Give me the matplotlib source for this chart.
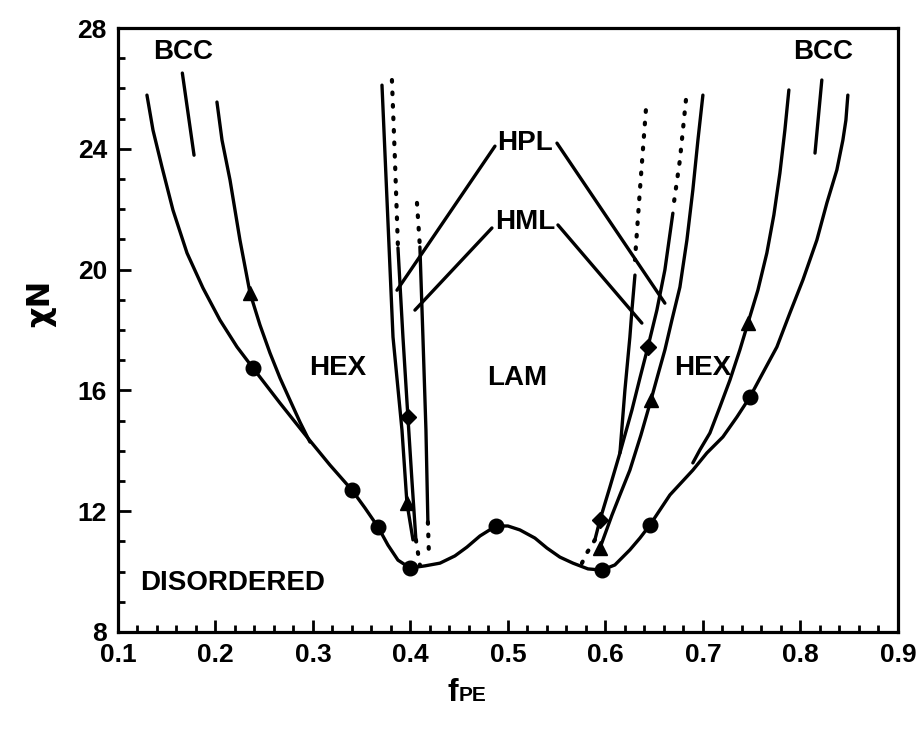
import numpy as np
import matplotlib
matplotlib.use('Agg')
import matplotlib.pyplot as plt
from matplotlib.ticker import MultipleLocator

plt.rcParams['font.family'] = ['Liberation Sans', 'DejaVu Sans']
plt.rcParams['font.weight'] = 'bold'

# order-disorder boundary
dis_x = [0.1297, 0.1359, 0.1451, 0.1564, 0.1708, 0.1872, 0.2046, 0.2221, 0.2385, 0.2662,
         0.2938, 0.3174, 0.3400, 0.3533, 0.3667, 0.3769, 0.3872, 0.3995, 0.4149, 0.4303,
         0.4456, 0.4579, 0.4713, 0.4877, 0.5000, 0.5123, 0.5277, 0.5400, 0.5533, 0.5667,
         0.5821, 0.5964, 0.6097, 0.6251, 0.6354, 0.6456, 0.6662, 0.6897, 0.7041, 0.7205,
         0.7349, 0.7482, 0.7615, 0.7759, 0.7892, 0.8026, 0.8169, 0.8272, 0.8374, 0.8436,
         0.8467, 0.8487]
dis_y = [25.78, 24.62, 23.40, 21.97, 20.55, 19.39, 18.33, 17.44, 16.74, 15.58,
         14.46, 13.53, 12.70, 12.11, 11.48, 10.88, 10.38, 10.12, 10.19, 10.28,
         10.52, 10.81, 11.18, 11.51, 11.51, 11.38, 11.11, 10.78, 10.48, 10.28,
         10.09, 10.05, 10.22, 10.72, 11.11, 11.54, 12.54, 13.36, 13.93, 14.46,
         15.12, 15.78, 16.58, 17.44, 18.56, 19.66, 20.98, 22.21, 23.30, 24.29,
         24.95, 25.78]
dis_mark_x = [0.2385, 0.3400, 0.3667, 0.3995, 0.4877, 0.5964, 0.6456, 0.7482]
dis_mark_y = [16.74, 12.70, 11.48, 10.12, 11.51, 10.05, 11.54, 15.78]

# HEX / BCC boundaries
hb_left_x = [0.2015, 0.2067, 0.2149, 0.2251, 0.2354, 0.2456, 0.2559, 0.2662, 0.2764,
             0.2867, 0.2969]
hb_left_y = [25.55, 24.29, 22.97, 20.98, 19.23, 18.17, 17.24, 16.41, 15.68, 14.95, 14.29]
hb_right_x = [0.7882, 0.7841, 0.7790, 0.7728, 0.7656, 0.7564, 0.7462, 0.7379, 0.7277,
              0.7174, 0.7072, 0.6969, 0.6897]
hb_right_y = [25.95, 24.62, 23.20, 21.81, 20.55, 19.32, 18.23, 17.34, 16.34, 15.45,
              14.59, 14.03, 13.60]
bcc_left_x = [0.166, 0.178]
bcc_left_y = [26.51, 23.79]
bcc_right_x = [0.822, 0.815]
bcc_right_y = [26.28, 23.86]

# left group (HEX / HPL / HML / LAM)
l1_x = [0.3708, 0.3821, 0.3913, 0.3964, 0.4026]
l1_y = [26.11, 17.77, 14.69, 12.27, 11.05]
l2_dot_x = [0.3810, 0.3841, 0.3872]
l2_dot_y = [26.28, 23.63, 20.72]
l2_x = [0.3872, 0.3923, 0.3974, 0.4015, 0.4056]
l2_y = [20.72, 17.77, 15.12, 13.03, 11.05]
l2_tail_x = [0.4056, 0.4097]
l2_tail_y = [11.05, 10.22]
l3_dot_x = [0.4067, 0.4097]
l3_dot_y = [22.21, 20.75]
l3_x = [0.4097, 0.4128, 0.4159, 0.4179]
l3_y = [20.75, 17.77, 14.69, 11.64]
l3_tail_x = [0.4179, 0.4190]
l3_tail_y = [11.64, 10.52]

# right group
ra_dot_x = [0.6415, 0.6354, 0.6303]
ra_dot_y = [25.28, 22.64, 20.32]
ra_x = [0.6303, 0.6272, 0.6251, 0.6200, 0.6149]
ra_y = [19.82, 18.66, 17.77, 16.01, 13.93]
rb_dot_x = [0.6826, 0.6764, 0.6692]
rb_dot_y = [25.62, 23.63, 21.97]
rb_x = [0.6692, 0.6610, 0.6528, 0.6436, 0.6354, 0.6272, 0.6149, 0.6046, 0.5944, 0.5892]
rb_y = [21.87, 19.99, 18.66, 17.44, 16.41, 15.35, 13.93, 12.80, 11.71, 11.05]
rb_tail_x = [0.5892, 0.581, 0.5759]
rb_tail_y = [11.05, 10.62, 10.28]
rc_x = [0.7000, 0.6949, 0.6897, 0.6836, 0.6764, 0.6682, 0.6610, 0.6538, 0.6467, 0.6364,
        0.6251, 0.6149, 0.6067, 0.5944]
rc_y = [25.78, 24.29, 22.64, 20.98, 19.42, 18.33, 17.34, 16.51, 15.68, 14.52,
        13.36, 12.54, 11.87, 10.78]

tri_x = [0.2354, 0.3964, 0.7462, 0.6467, 0.5944]
tri_y = [19.23, 12.27, 18.23, 15.68, 10.78]
dia_x = [0.3974, 0.6436, 0.5944]
dia_y = [15.12, 17.44, 11.71]

# label pointer lines
hpl_l_x = [0.4867, 0.3862]
hpl_l_y = [24.09, 19.32]
hml_l_x = [0.4836, 0.4046]
hml_l_y = [21.38, 18.66]
hpl_r_x = [0.5503, 0.661]
hpl_r_y = [24.19, 18.89]
hml_r_x = [0.5513, 0.6374]
hml_r_y = [21.48, 18.23]

fig = plt.figure(figsize=(9.19, 7.39), dpi=100)
ax = fig.add_axes([0.1284, 0.1448, 0.8486, 0.8172])

lw = 2.4
solid = dict(color='black', lw=lw, solid_capstyle='round', solid_joinstyle='round')
dotted = dict(color='black', lw=lw + 0.6, linestyle=(0, (0.4, 2.6)), dash_capstyle='round')

ax.plot(dis_x, dis_y, **solid)
for xs, ys in [(hb_left_x, hb_left_y), (hb_right_x, hb_right_y), (bcc_left_x, bcc_left_y),
               (bcc_right_x, bcc_right_y), (l1_x, l1_y), (l2_x, l2_y), (l3_x, l3_y),
               (ra_x, ra_y), (rb_x, rb_y), (rc_x, rc_y),
               (hpl_l_x, hpl_l_y), (hml_l_x, hml_l_y), (hpl_r_x, hpl_r_y), (hml_r_x, hml_r_y)]:
    ax.plot(xs, ys, **solid)
for xs, ys in [(l2_dot_x, l2_dot_y), (l2_tail_x, l2_tail_y), (l3_dot_x, l3_dot_y),
               (l3_tail_x, l3_tail_y), (ra_dot_x, ra_dot_y), (rb_dot_x, rb_dot_y),
               (rb_tail_x, rb_tail_y)]:
    ax.plot(xs, ys, **dotted)

ax.plot(dis_mark_x, dis_mark_y, 'o', color='black', ms=10.5)
ax.plot(tri_x, tri_y, '^', color='black', ms=10.5)
ax.plot(dia_x, dia_y, 'D', color='black', ms=8)

fs = 20
labels = [('BCC', 0.1667, 27.2), ('BCC', 0.823, 27.2), ('HEX', 0.3256, 16.74),
          ('HEX', 0.700, 16.74), ('LAM', 0.510, 16.41), ('HPL', 0.5174, 24.19),
          ('HML', 0.5174, 21.58), ('DISORDERED', 0.2175, 9.62)]
for s, x, y in labels:
    ax.text(x, y, s, fontsize=fs, ha='center', va='center', fontweight='bold')

ax.set_xlim(0.1, 0.9)
ax.set_ylim(8, 28)
ax.set_xticks(np.arange(0.1, 0.91, 0.1))
ax.set_xticklabels(['%.1f' % v for v in np.arange(0.1, 0.91, 0.1)])
ax.xaxis.set_minor_locator(MultipleLocator(0.02))
ax.yaxis.set_major_locator(MultipleLocator(4))
ax.yaxis.set_minor_locator(MultipleLocator(1))
ax.tick_params(which='both', direction='in', top=False, right=False, width=2,
               labelsize=19)
ax.tick_params(which='major', length=9, pad=8)
ax.tick_params(which='minor', length=5)
for lab in ax.get_xticklabels() + ax.get_yticklabels():
    lab.set_fontweight('bold')
for sp in ax.spines.values():
    sp.set_linewidth(2.3)

fig.text(0.044, 0.59, 'χN', rotation=90, fontsize=23, fontweight='bold',
         ha='center', va='center', family=['DejaVu Sans'])
fig.text(0.498, 0.052, 'f', fontsize=23, fontweight='bold', ha='right', va='baseline')
fig.text(0.499, 0.052, 'PE', fontsize=15, fontweight='bold', ha='left', va='baseline')

fig.savefig('out.png', dpi=100)
